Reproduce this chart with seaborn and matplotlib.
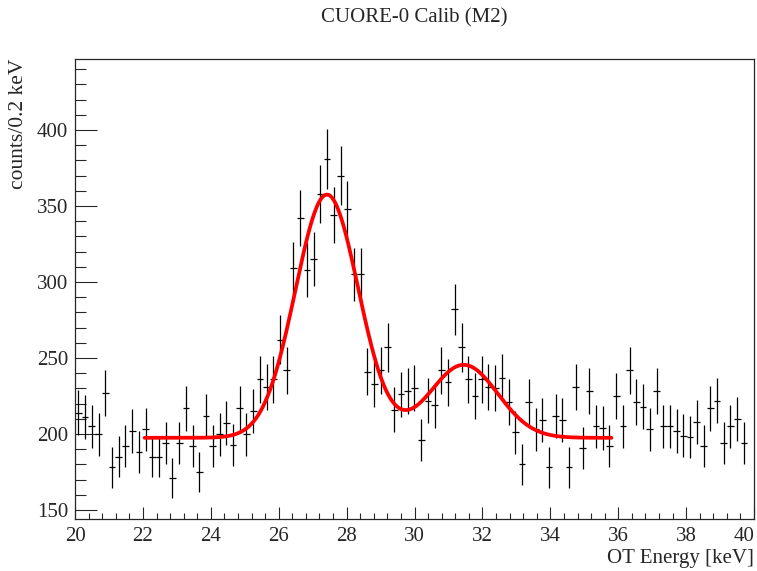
import numpy as np
import pandas as pd
import matplotlib
matplotlib.use("Agg")
import matplotlib.pyplot as plt
from matplotlib.ticker import MultipleLocator
import seaborn as sns

# histogram counts per 0.2 keV bin
counts = [214, 211, 205, 200, 227, 178, 185, 192, 202, 188,
          203, 185, 185, 194, 171, 194, 217, 192, 175, 212,
          192, 200, 207, 193, 217, 200, 215, 236, 231, 236,
          262, 242, 309, 342, 308, 315, 358, 381, 344, 370,
          348, 305, 305, 241, 233, 242, 257, 216, 226, 228,
          230, 196, 222, 219, 242, 234, 282, 257, 236, 225,
          236, 231, 230, 237, 221, 201, 180, 221, 203, 209,
          178, 212, 209, 178, 231, 191, 228, 205, 204, 192,
          225, 205, 242, 221, 218, 203, 228, 205, 205, 202,
          199, 198, 208, 192, 217, 222, 194, 205, 210, 194]
hist_lo, hist_hi = 20.0, 39.8
x_ticks = [20, 22, 24, 26, 28, 30, 32, 34, 36, 38, 40]

# fit: flat background + two gaussians
fit_range = (22.05, 35.8)
bkg = 197.5
peak1 = (160.0, 27.42, 0.93)   # amplitude, mean, sigma
peak2 = (48.0, 31.45, 1.0)

edges = np.linspace(hist_lo, hist_hi, len(counts) + 1)
centers = 0.5 * (edges[:-1] + edges[1:])
half_w = 0.5 * (edges[1] - edges[0])
df = pd.DataFrame({"energy": centers, "counts": counts})
df["err"] = np.sqrt(df["counts"])

xf = np.linspace(fit_range[0], fit_range[1], 400)
yf = bkg + sum(a * np.exp(-0.5 * ((xf - m) / s) ** 2) for a, m, s in (peak1, peak2))
fit = pd.DataFrame({"energy": xf, "model": yf})

sns.set_style("ticks")
plt.rcParams["font.family"] = ["Liberation Serif", "DejaVu Serif"]

fig = plt.figure(figsize=(7.57, 5.71), dpi=100)
ax = fig.add_axes([0.0991, 0.0911, 0.8970, 0.8056])

ax.errorbar(df["energy"], df["counts"], yerr=df["err"], xerr=half_w,
            fmt="none", ecolor="black", elinewidth=0.9, capsize=0)
sns.lineplot(data=fit, x="energy", y="model", color="red", linewidth=2.7, ax=ax)

ax.set_xlim(20, 40)
ax.set_ylim(144.1, 446.7)
ax.set_xticks(x_ticks, [str(t) for t in x_ticks])
ax.xaxis.set_minor_locator(MultipleLocator(0.4))
ax.yaxis.set_major_locator(MultipleLocator(50))
ax.yaxis.set_minor_locator(MultipleLocator(10))
ax.tick_params(axis="x", which="major", direction="in", length=9, width=0.8, labelsize=15, pad=6)
ax.tick_params(axis="x", which="minor", direction="in", length=4.5, width=0.8)
ax.tick_params(axis="y", which="major", direction="in", length=16, width=0.8, labelsize=15, pad=5)
ax.tick_params(axis="y", which="minor", direction="in", length=8, width=0.8)
for sp in ax.spines.values():
    sp.set_visible(True)
    sp.set_linewidth(0.9)

# last x label sits inside the frame like ROOT does
ax.get_xticklabels()[-1].set_horizontalalignment("right")

ax.set_xlabel("OT Energy [keV]", fontsize=15, loc="right", labelpad=2)
ax.set_ylabel("counts/0.2 keV", fontsize=15.5, loc="top", labelpad=6)
fig.text(0.547, 0.968, "CUORE-0 Calib (M2)", ha="center", va="center", fontsize=15)

fig.savefig("out.png", dpi=100)
